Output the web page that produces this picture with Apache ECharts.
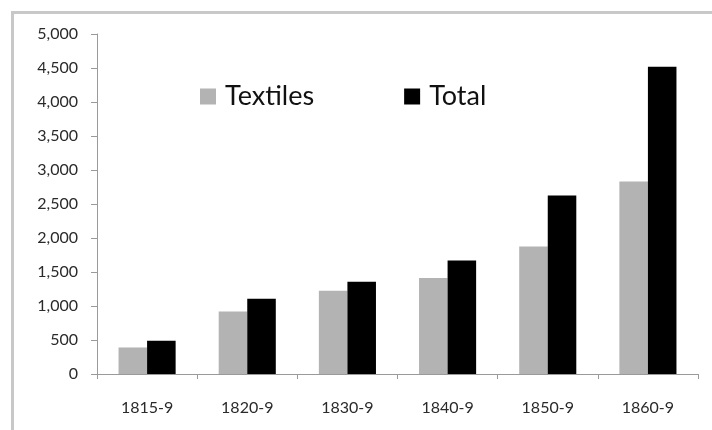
<!DOCTYPE html>
<html>
<head>
<meta charset="utf-8">
<script src="https://cdn.jsdelivr.net/npm/echarts@6/dist/echarts.min.js"></script>
<style>
  html, body { margin: 0; padding: 0; background: #fff; }
  #chart { width: 712px; height: 430px; }
</style>
</head>
<body>
<div id="chart"></div>
<script>
// Decades of exports (thousands), textiles vs. all goods
const periods = ['1815-9', '1820-9', '1830-9', '1840-9', '1850-9', '1860-9'];
const textiles = [390, 920, 1225, 1410, 1875, 2830];
const total = [490, 1105, 1355, 1670, 2625, 4520];

const FONT = 'Lato';
const axisGray = '#9a9a9a';

const chart = echarts.init(document.getElementById('chart'), null, { renderer: 'canvas' });

chart.setOption({
  animation: false,
  backgroundColor: '#fff',
  textStyle: { fontFamily: FONT },
  graphic: [{
    type: 'rect',
    shape: { x: 12.5, y: 12.5, width: 720, height: 440 },
    style: { fill: 'none', stroke: '#c8c8c8', lineWidth: 3 },
    silent: true
  }],
  legend: {
    left: 200,
    top: 83,
    padding: 0,
    itemWidth: 16,
    itemHeight: 16,
    itemGap: 90,
    icon: 'rect',
    textStyle: { fontFamily: FONT, fontSize: 27, color: '#111', padding: [0, 0, 0, 4] },
    data: ['Textiles', 'Total']
  },
  grid: { left: 97, right: 14, top: 34, bottom: 56, containLabel: false },
  xAxis: {
    type: 'category',
    data: periods,
    axisLine: { lineStyle: { color: axisGray, width: 1 } },
    axisTick: { show: true, length: 5, lineStyle: { color: axisGray } },
    axisLabel: { fontFamily: FONT, fontSize: 16, color: '#2a2a2a', margin: 26 }
  },
  yAxis: {
    type: 'value',
    min: 0,
    max: 5000,
    interval: 500,
    splitLine: { show: false },
    axisLine: { show: true, lineStyle: { color: axisGray, width: 1 } },
    axisTick: { show: true, length: 6, lineStyle: { color: axisGray } },
    axisLabel: {
      fontFamily: FONT, fontSize: 16, color: '#2a2a2a', margin: 19,
      formatter: v => v.toLocaleString('en-US')
    }
  },
  series: [
    {
      name: 'Textiles',
      type: 'bar',
      data: textiles,
      barWidth: '28.5%',
      barGap: '0%',
      itemStyle: { color: '#b3b3b3' }
    },
    {
      name: 'Total',
      type: 'bar',
      data: total,
      barWidth: '28.5%',
      itemStyle: { color: '#000' }
    }
  ]
});
</script>
</body>
</html>
